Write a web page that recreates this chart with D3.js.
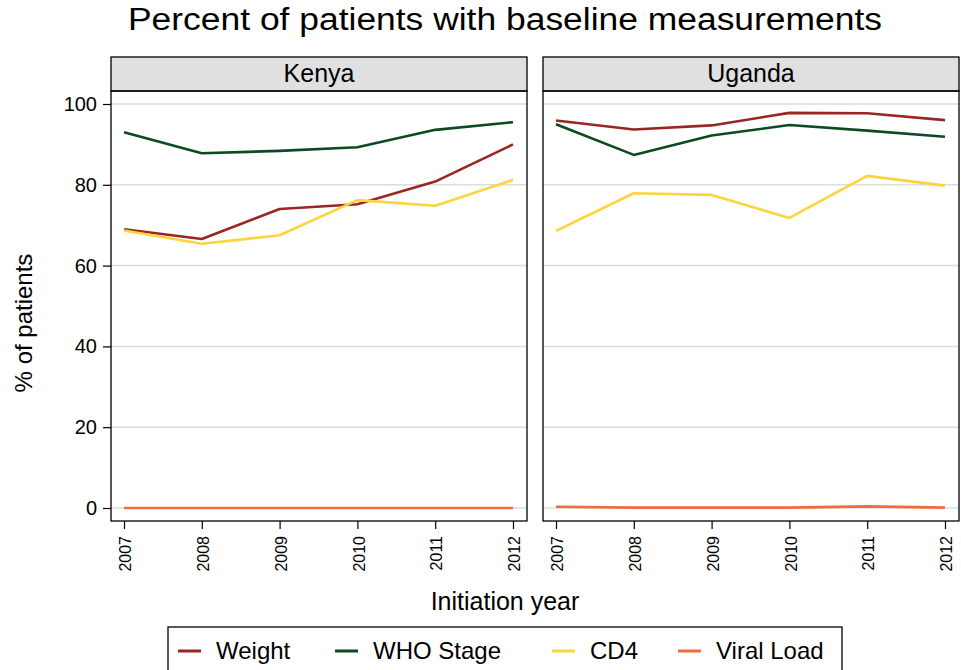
<!DOCTYPE html>
<html>
<head>
<meta charset="utf-8">
<script src="https://d3js.org/d3.v7.min.js"></script>
<style>
  body { margin: 0; background: #fff; }
  text { font-family: "Liberation Sans", Arial, Helvetica, sans-serif; }
</style>
</head>
<body>
<script>
// data
const years = [2007, 2008, 2009, 2010, 2011, 2012];
const countries = ["Kenya", "Uganda"];
const seriesNames = ["Weight", "WHO Stage", "CD4", "Viral Load"];
const seriesColors = ["#9a2522", "#0b4a22", "#fdd43c", "#f26b3e"];

const kenyaWeight = [69.0, 66.6, 74.0, 75.2, 80.8, 90.0];
const kenyaWho    = [93.0, 87.8, 88.4, 89.3, 93.6, 95.5];
const kenyaCd4    = [68.7, 65.4, 67.5, 76.2, 74.8, 81.2];
const kenyaVl     = [0, 0, 0, 0, 0, 0];

const ugandaWeight = [95.9, 93.7, 94.7, 97.8, 97.7, 96.0];
const ugandaWho    = [95.0, 87.4, 92.2, 94.8, 93.4, 91.9];
const ugandaCd4    = [68.6, 77.9, 77.5, 71.8, 82.2, 79.8];
const ugandaVl     = [0.3, 0.1, 0.1, 0.1, 0.4, 0.1];

const yTicks = [0, 20, 40, 60, 80, 100];

const panelData = {
  Kenya: [kenyaWeight, kenyaWho, kenyaCd4, kenyaVl],
  Uganda: [ugandaWeight, ugandaWho, ugandaCd4, ugandaVl]
};

const width = 961, height = 670;
const svg = d3.select("body").append("svg")
  .attr("width", width).attr("height", height);

// title
svg.append("text")
  .attr("x", 505).attr("y", 30)
  .attr("text-anchor", "middle")
  .attr("font-size", "31px")
  .attr("textLength", 754)
  .attr("lengthAdjust", "spacingAndGlyphs")
  .text("Percent of patients with baseline measurements");

const stripTop = 57, plotTop = 91, plotBottom = 521;
const panels = [
  { name: countries[0], x0: 111, x1: 527 },
  { name: countries[1], x0: 543, x1: 959 }
];

const y = d3.scaleLinear().domain([0, 100]).range([508, 104]);

panels.forEach((p, pi) => {
  const g = svg.append("g");
  const x = d3.scaleLinear().domain([2007, 2012]).range([p.x0 + 13, p.x1 - 14]);

  // strip
  g.append("rect")
    .attr("x", p.x0).attr("y", stripTop)
    .attr("width", p.x1 - p.x0).attr("height", plotTop - stripTop)
    .attr("fill", "#e0e0e0").attr("stroke", "#000").attr("stroke-width", 1.3);
  g.append("text")
    .attr("x", (p.x0 + p.x1) / 2).attr("y", plotTop - 9)
    .attr("text-anchor", "middle").attr("font-size", "25px")
    .text(p.name);

  // grid
  g.selectAll(".grid").data(yTicks).join("line")
    .attr("x1", p.x0).attr("x2", p.x1)
    .attr("y1", d => y(d)).attr("y2", d => y(d))
    .attr("stroke", "#dcdcdc").attr("stroke-width", 1.5);

  // lines
  const line = d3.line().x((d, i) => x(years[i])).y(d => y(d));
  panelData[p.name].forEach((vals, si) => {
    g.append("path")
      .datum(vals)
      .attr("d", line)
      .attr("fill", "none")
      .attr("stroke", seriesColors[si])
      .attr("stroke-width", 2.6)
      .attr("stroke-linejoin", "round");
  });

  // plot frame
  g.append("rect")
    .attr("x", p.x0).attr("y", plotTop)
    .attr("width", p.x1 - p.x0).attr("height", plotBottom - plotTop)
    .attr("fill", "none").attr("stroke", "#000").attr("stroke-width", 1.3);

  // x axis
  const xAxis = g.append("g")
    .attr("transform", `translate(0,${plotBottom})`)
    .call(d3.axisBottom(x).tickValues(years).tickFormat(d3.format("d")).tickSize(8).tickSizeOuter(0));
  xAxis.select(".domain").remove();
  xAxis.selectAll("line").attr("stroke", "#000").attr("stroke-width", 1.2);
  xAxis.selectAll("text")
    .attr("font-size", "16px")
    .attr("fill", "#000")
    .attr("transform", "rotate(-90)")
    .attr("text-anchor", "end")
    .attr("x", -15).attr("y", 1).attr("dy", "0.35em");

  // y axis on left panel only
  if (pi === 0) {
    const yAxis = g.append("g")
      .attr("transform", `translate(${p.x0},0)`)
      .call(d3.axisLeft(y).tickValues(yTicks).tickSize(8).tickSizeOuter(0));
    yAxis.select(".domain").remove();
    yAxis.selectAll("line").attr("stroke", "#000").attr("stroke-width", 1.2);
    yAxis.selectAll("text").attr("font-size", "20px").attr("fill", "#000").attr("x", -14);
  }
});

// axis titles
svg.append("text")
  .attr("transform", "translate(32,323) rotate(-90)")
  .attr("text-anchor", "middle").attr("font-size", "24px")
  .text("% of patients");
svg.append("text")
  .attr("x", 505).attr("y", 610)
  .attr("text-anchor", "middle").attr("font-size", "25px")
  .text("Initiation year");

// legend
const legend = svg.append("g");
legend.append("rect")
  .attr("x", 168).attr("y", 627)
  .attr("width", 674).attr("height", 60)
  .attr("fill", "#fff").attr("stroke", "#000").attr("stroke-width", 1.3);
const legendX = [178, 335, 552, 678];
const items = legend.selectAll(".item").data(seriesNames).join("g")
  .attr("transform", (d, i) => `translate(${legendX[i]},651)`);
items.append("line")
  .attr("x1", 0).attr("x2", 23).attr("y1", 0).attr("y2", 0)
  .attr("stroke", (d, i) => seriesColors[i]).attr("stroke-width", 3);
items.append("text")
  .attr("x", 38).attr("y", 8)
  .attr("font-size", "24px")
  .text(d => d);
</script>
</body>
</html>
